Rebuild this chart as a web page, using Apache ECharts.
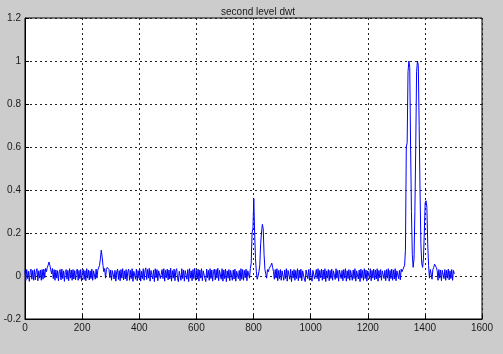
<!DOCTYPE html>
<html><head><meta charset="utf-8">
<script src="https://cdn.jsdelivr.net/npm/echarts@6/dist/echarts.min.js"></script>
<style>html,body{margin:0;padding:0;background:#cccccc;}#c{width:503px;height:354px;}</style>
</head><body><div id="c"></div>
<script>
var titleText = "second level dwt";
var xStep = 3;
var xTicks = [0, 200, 400, 600, 800, 1000, 1200, 1400, 1600];
var yTicks = [-0.2, 0, 0.2, 0.4, 0.6, 0.8, 1, 1.2];
var signal = [
0.025,-0.02,0.03,-0.012,0.022,-0.025,0.018,0.032,-0.015,0.026,-0.02,0.03,-0.018,0.02,0.034,-0.022,0.024,-0.01,0.028,-0.02,
0.03,-0.015,0.032,-0.008,0.035,0.02,0.04,0.05,0.065,0.05,0.045,0.01,0.035,-0.012,0.03,-0.02,0.028,-0.01,0.025,-0.022,
0.02,0.03,-0.018,0.032,-0.012,0.024,-0.025,0.02,0.03,-0.015,0.026,-0.022,0.034,-0.01,0.028,-0.02,0.03,-0.014,0.025,-0.018,
0.022,0.032,-0.02,0.026,-0.012,0.03,-0.024,0.018,0.03,-0.016,0.025,-0.022,0.034,-0.01,0.028,-0.018,0.024,-0.012,0.032,-0.02,
0.024,0.03,-0.015,0.032,-0.01,0.028,0.035,0.05,0.08,0.12,0.09,0.05,0.02,0.035,-0.01,0.03,0.04,0.045,0.03,-0.008,
0.028,-0.02,0.025,0.034,-0.014,0.026,-0.024,0.02,0.032,-0.016,0.025,-0.022,0.03,-0.01,0.034,-0.018,0.024,-0.014,0.03,-0.022,
0.02,0.032,-0.02,0.026,-0.012,0.034,-0.025,0.022,0.028,-0.015,0.032,-0.022,0.025,-0.01,0.03,-0.024,0.022,-0.012,0.034,-0.02,
0.025,0.038,-0.016,0.03,-0.01,0.036,-0.024,0.026,0.032,-0.014,0.028,-0.026,0.034,-0.008,0.03,-0.022,0.024,0.032,-0.012,-0.02,
0.03,-0.012,0.034,-0.024,0.026,-0.008,0.032,-0.018,0.028,-0.014,0.036,-0.024,0.025,-0.01,0.032,-0.022,0.024,0.034,-0.012,-0.026,
0.022,0.03,-0.02,0.034,-0.012,0.028,-0.024,0.025,0.032,-0.015,0.03,-0.026,0.034,-0.01,0.024,-0.022,0.03,-0.012,0.036,-0.02,
0.026,-0.014,0.032,-0.024,0.028,-0.01,0.034,-0.022,0.024,0.03,-0.012,-0.026,0.032,-0.008,0.026,-0.02,0.034,-0.012,0.028,-0.024,
0.022,0.032,-0.018,0.03,-0.01,0.036,-0.022,0.026,0.03,-0.015,0.034,-0.024,0.028,-0.012,0.032,-0.026,0.024,-0.01,0.03,-0.022,
0.026,0.034,-0.02,0.028,-0.014,0.032,-0.024,0.022,0.03,-0.012,0.026,-0.022,0.034,-0.015,0.03,-0.02,0.026,-0.008,0.032,-0.022,
0.024,0.03,-0.01,0.035,0.06,0.2,0.22,0.36,0.2,0.08,0.02,-0.015,0.0,0.02,0.05,0.15,0.2,0.24,0.22,0.1,
0.03,0.01,-0.01,0.03,0.02,0.035,0.04,0.05,0.06,0.04,0.02,-0.015,0.03,-0.01,0.034,-0.022,0.026,-0.012,0.03,-0.02,
0.024,0.032,-0.02,0.028,-0.012,0.034,-0.024,0.026,0.03,-0.015,0.032,-0.026,0.024,-0.01,0.03,-0.02,0.026,-0.012,0.034,-0.022,
0.028,-0.01,0.032,-0.022,0.024,0.03,-0.014,-0.026,0.028,0.034,-0.012,0.03,-0.02,0.032,-0.008,-0.024,0.026,0.03,-0.014,-0.02,
0.03,-0.012,0.034,-0.024,0.026,-0.008,0.032,-0.02,0.028,-0.014,0.034,-0.026,0.024,-0.01,0.03,-0.022,0.026,-0.012,0.032,-0.02,
0.024,0.03,-0.016,0.034,-0.01,0.026,-0.024,0.028,0.032,-0.012,0.026,-0.022,0.03,-0.01,0.034,-0.024,0.024,-0.012,0.03,-0.02,
0.026,0.032,-0.02,0.028,-0.012,0.034,-0.024,0.024,0.03,-0.014,0.028,-0.026,0.032,-0.01,0.026,-0.02,0.034,-0.012,0.028,-0.024,
0.024,0.03,-0.012,0.034,-0.022,0.026,-0.01,0.032,-0.018,0.028,-0.014,0.034,-0.024,0.026,-0.008,0.03,-0.02,0.024,0.032,-0.012,
0.026,-0.022,0.03,-0.01,0.034,-0.024,0.026,-0.012,0.032,-0.02,0.028,-0.014,0.034,-0.022,0.024,0.03,-0.012,0.026,-0.018,0.032,
0.02,0.03,0.035,0.05,0.12,0.6,0.62,0.95,1.0,0.97,0.6,0.3,0.1,0.04,0.08,0.3,0.6,0.95,1.0,0.98,
0.7,0.4,0.15,0.06,0.04,0.08,0.2,0.34,0.35,0.32,0.15,0.05,-0.01,0.03,0.01,-0.015,0.03,0.04,0.055,0.06,
0.04,0.025,-0.02,0.03,-0.01,0.028,-0.022,0.026,0.032,-0.012,0.03,-0.02,0.026,-0.01,0.032,-0.018,0.024,-0.012,0.03,-0.02,0.026,0.01
];

var pts = signal.map(function (v, i) { return [i * xStep, v]; });
var chart = echarts.init(document.getElementById('c'), null, {renderer: 'canvas'});
var lblFont = {color: '#1a1a1a', fontSize: 10, fontFamily: 'Liberation Sans, Arial, sans-serif'};
chart.setOption({
  animation: false,
  backgroundColor: '#cccccc',
  title: {
    text: titleText, left: 253, top: 2, textAlign: 'center',
    textStyle: {fontSize: 10, fontWeight: 'normal', color: '#1a1a1a', fontFamily: 'Liberation Sans, Arial, sans-serif'}
  },
  grid: {left: 25, right: 21, top: 18, bottom: 35, show: true, backgroundColor: '#ffffff', borderColor: '#000000', borderWidth: 1},
  xAxis: {
    type: 'value', min: xTicks[0], max: xTicks[xTicks.length - 1], interval: 200,
    axisLine: {show: true, onZero: false, lineStyle: {color: '#000', width: 1}},
    axisTick: {show: true, inside: true, length: 4, lineStyle: {color: '#000'}},
    axisLabel: Object.assign({margin: 4, formatter: function (v) { return String(v); }}, lblFont),
    splitLine: {show: true, lineStyle: {color: '#222', type: [2, 3], width: 1}}
  },
  yAxis: {
    type: 'value', min: yTicks[0], max: yTicks[yTicks.length - 1], interval: 0.2,
    axisLine: {show: true, onZero: false, lineStyle: {color: '#000', width: 1}},
    axisTick: {show: true, inside: true, length: 4, lineStyle: {color: '#000'}},
    axisLabel: Object.assign({margin: 4, formatter: function (v) { return String(Math.round(v * 10) / 10); }}, lblFont),
    splitLine: {show: true, lineStyle: {color: '#222', type: [2, 3], width: 1}}
  },
  series: [{
    type: 'line', data: pts, showSymbol: false, symbol: 'none',
    lineStyle: {color: '#0000ff', width: 1}, z: 1
  }]
});
</script>
</body></html>
